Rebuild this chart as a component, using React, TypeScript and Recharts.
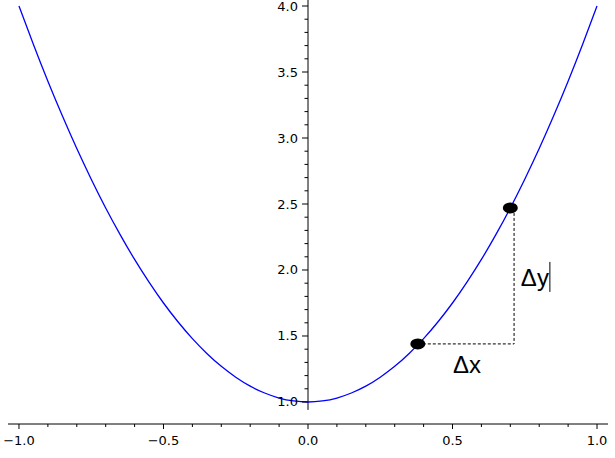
import React from 'react';
import {
  ComposedChart,
  Line,
  Scatter,
  XAxis,
  YAxis,
  ReferenceLine,
  ReferenceDot,
} from 'recharts';

// curve
const curveX = [
  -1.0, -0.95, -0.9, -0.85, -0.8, -0.75, -0.7, -0.65, -0.6, -0.55, -0.5,
  -0.45, -0.4, -0.35, -0.3, -0.25, -0.2, -0.15, -0.1, -0.05, 0.0,
  0.05, 0.1, 0.15, 0.2, 0.25, 0.3, 0.35, 0.4, 0.45, 0.5,
  0.55, 0.6, 0.65, 0.7, 0.75, 0.8, 0.85, 0.9, 0.95, 1.0,
];
const curveY = [
  4.0, 3.708, 3.43, 3.168, 2.92, 2.688, 2.47, 2.268, 2.08, 1.908, 1.75,
  1.608, 1.48, 1.368, 1.27, 1.188, 1.12, 1.068, 1.03, 1.008, 1.0,
  1.008, 1.03, 1.068, 1.12, 1.188, 1.27, 1.368, 1.48, 1.608, 1.75,
  1.908, 2.08, 2.268, 2.47, 2.688, 2.92, 3.168, 3.43, 3.708, 4.0,
];

// the two marked points
const pointX = [0.38, 0.7];
const pointY = [1.44, 2.47];

// corner of the dashed triangle
const cornerX = 0.713;

// annotation labels
const deltaLabels = ['Δx', 'Δy'];
const deltaLabelX = [0.55, 0.785];
const deltaLabelY = [1.28, 1.94];

const xMajorTicks = [-1.0, -0.5, 0.0, 0.5, 1.0];
const yMajorTicks = [1.0, 1.5, 2.0, 2.5, 3.0, 3.5, 4.0];

const xTicks: number[] = [];
for (let i = -10; i <= 10; i++) xTicks.push(i / 10);
const yTicks: number[] = [];
for (let i = 10; i <= 40; i++) yTicks.push(i / 10);

const yAxisBottom = 0.94;

const XMIN = -1.038;
const XMAX = 1.038;
const YMIN = 0.8333;
const YMAX = 4.0455;

const W = 615;
const H = 458;
const M = { top: 0, right: 7, bottom: 0, left: 7 };
const X_AXIS_H = 34;
const Y_AXIS_W = 1;
const PLOT_W = W - M.left - Y_AXIS_W - M.right;
// pixel shift from the plot's left edge to x = 0, where the y axis sits
const Y_AXIS_SHIFT = ((0 - XMIN) / (XMAX - XMIN)) * PLOT_W;

const tickFont = { fontFamily: 'DejaVu Sans', fontSize: 13, fill: '#000' };

const fmt = (v: number) => v.toFixed(1).replace('-', '\u2212');
const isMajor = (v: number, list: number[]) => list.some((m) => Math.abs(m - v) < 1e-6);

const curveData = curveX.map((x, i) => ({ x, y: curveY[i] }));
const pointData = pointX.map((x, i) => ({ x, y: pointY[i] }));

const XTick = (props: any) => {
  const { x, y, payload } = props;
  const major = isMajor(payload.value, xMajorTicks);
  return (
    <g>
      <line x1={x} x2={x} y1={y} y2={y + (major ? 5 : 3)} stroke="#000" strokeWidth={1} />
      {major && (
        <text x={x} y={y + 21} textAnchor="middle" {...tickFont}>
          {fmt(payload.value)}
        </text>
      )}
    </g>
  );
};

const YTick = (props: any) => {
  const { x, y, payload } = props;
  const major = isMajor(payload.value, yMajorTicks);
  const ax = x + Y_AXIS_SHIFT;
  return (
    <g>
      <line x1={ax - (major ? 6 : 3.5)} x2={ax} y1={y} y2={y} stroke="#000" strokeWidth={1} />
      {major && (
        <text x={ax - 10} y={y + 4.5} textAnchor="end" {...tickFont}>
          {fmt(payload.value)}
        </text>
      )}
    </g>
  );
};

const DotShape = (props: any) => (
  <ellipse cx={props.cx} cy={props.cy} rx={7.5} ry={5.5} fill="#000" />
);

const LabelShape = (text: string) => (props: any) => (
  <g>
    <text
      x={props.cx}
      y={props.cy + 8}
      textAnchor="middle"
      fontFamily="Liberation Sans"
      fontSize={24}
      fill="#000"
    >
      {text}
    </text>
    {text === 'Δy' && (
      <line x1={props.cx + 15} x2={props.cx + 15} y1={props.cy - 16} y2={props.cy + 14} stroke="#000" strokeWidth={1} />
    )}
  </g>
);

export default function App() {
  return (
    <div style={{ position: 'absolute', left: 0, top: 0, background: '#fff' }}>
      <ComposedChart width={W} height={H} data={curveData} margin={M}>
        <XAxis
          type="number"
          dataKey="x"
          domain={[XMIN, XMAX]}
          ticks={xTicks}
          interval={0}
          allowDataOverflow
          height={X_AXIS_H}
          tickSize={0}
          tickMargin={0}
          tickLine={false}
          axisLine={{ stroke: '#000', strokeWidth: 1 }}
          tick={<XTick />}
        />
        <YAxis
          type="number"
          dataKey="y"
          domain={[YMIN, YMAX]}
          ticks={yTicks}
          interval={0}
          allowDataOverflow
          width={Y_AXIS_W}
          tickSize={0}
          tickMargin={0}
          tickLine={false}
          axisLine={false}
          tick={<YTick />}
        />
        <ReferenceLine
          segment={[{ x: 0, y: yAxisBottom }, { x: 0, y: YMAX }]}
          stroke="#000"
          strokeWidth={1}
        />
        <ReferenceLine
          segment={[{ x: pointX[0], y: pointY[0] }, { x: cornerX, y: pointY[0] }]}
          stroke="#000"
          strokeWidth={1}
          strokeDasharray="3 2"
        />
        <ReferenceLine
          segment={[{ x: cornerX, y: pointY[1] }, { x: cornerX, y: pointY[0] }]}
          stroke="#000"
          strokeWidth={1}
          strokeDasharray="3 2"
        />
        <Line
          type="natural"
          dataKey="y"
          stroke="#0000ff"
          strokeWidth={1.3}
          dot={false}
          activeDot={false}
          isAnimationActive={false}
        />
        <Scatter data={pointData} shape={<DotShape />} isAnimationActive={false} />
        {deltaLabels.map((t, i) => (
          <ReferenceDot
            key={t}
            x={deltaLabelX[i]}
            y={deltaLabelY[i]}
            r={0}
            shape={LabelShape(t)}
          />
        ))}
      </ComposedChart>
    </div>
  );
}
